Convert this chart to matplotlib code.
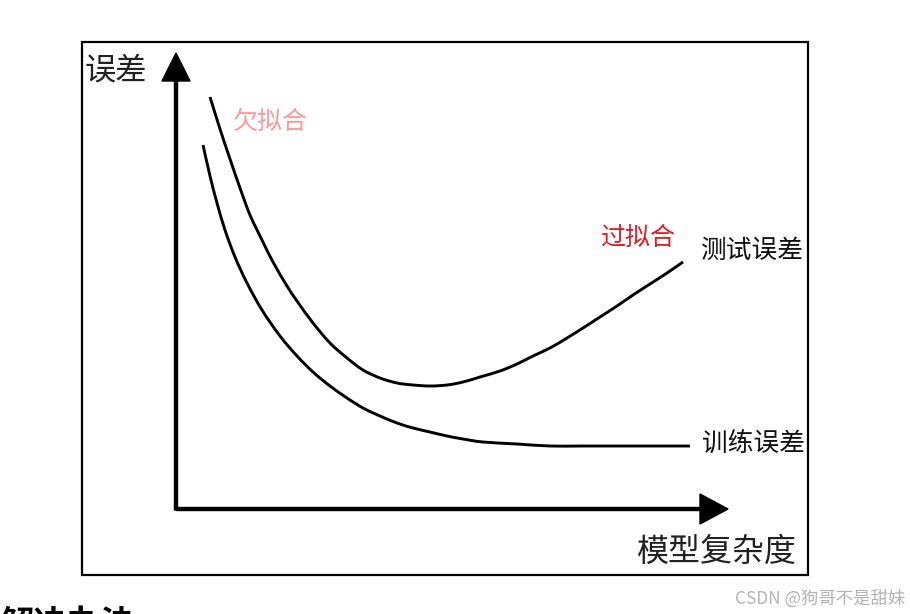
"""
Bias-variance sketch: training error vs test error over model complexity
"""

import matplotlib
matplotlib.use('Agg')
import matplotlib.pyplot as plt
import numpy as np
from matplotlib.patches import Rectangle, PathPatch
from matplotlib.path import Path

plt.rcParams['font.family'] = ['Noto Sans CJK SC', 'DejaVu Sans']

# model complexity (x) and error (y)
test_complexity = [34, 44, 54, 64, 74, 86, 97, 111, 121, 137, 154, 171, 187, 204,
                   221, 237, 254, 271, 287, 304, 324, 341, 357, 374, 391, 407,
                   424, 441, 457, 474, 491, 507]
test_error = [413, 381, 351, 322, 295, 270, 248, 224, 209, 187, 167, 152, 140, 132,
              127, 125, 124, 125, 128, 133, 139, 146, 154, 162, 172, 182,
              193, 204, 215, 226, 237, 248]

train_complexity = [27, 34, 41, 49, 59, 71, 86, 104, 121, 137, 154, 171, 187, 204,
                    221, 237, 254, 271, 287, 307, 341, 374, 407, 441, 474, 514]
train_error = [365, 334, 307, 280, 253, 227, 200, 174, 154, 138, 124, 112, 102, 94,
               87, 82, 78, 74, 71, 68, 66, 64, 64, 64, 64, 64]

x_label = '模型复杂度'
y_label = '误差'
test_label = '测试误差'
train_label = '训练误差'
under_label = '欠拟合'
over_label = '过拟合'


def smooth_path(xs, ys):
    """Draw a smooth curve through the read points (Catmull-Rom as Bezier)."""
    pts = np.column_stack([xs, ys]).astype(float)
    verts = [pts[0]]
    codes = [Path.MOVETO]
    n = len(pts)
    for i in range(n - 1):
        p0 = pts[max(i - 1, 0)]
        p1 = pts[i]
        p2 = pts[i + 1]
        p3 = pts[min(i + 2, n - 1)]
        c1 = p1 + (p2 - p0) / 6.0
        c2 = p2 - (p3 - p1) / 6.0
        verts += [c1, c2, p2]
        codes += [Path.CURVE4] * 3
    return Path(verts, codes)


# ========================================
# Figure: one data unit = one pixel, origin at the arrows' corner
# ========================================
fig = plt.figure(figsize=(9.10, 6.14), dpi=100)
ax = fig.add_axes([0, 0, 1, 1])
ax.set_xlim(-176, 734)
ax.set_ylim(-104, 510)
ax.axis('off')

# outer frame
ax.add_patch(Rectangle((82 - 176, 510 - 575), 808 - 82, 575 - 42,
                       fill=False, edgecolor='black', linewidth=1.6))

# axis arrows
ax.arrow(0, 0, 0, 457, width=3, head_width=28, head_length=28,
         length_includes_head=True, color='black')
ax.arrow(0, 1, 552, 0, width=3, head_width=30, head_length=28,
         length_includes_head=True, color='black')

# curves
for xs, ys in [(test_complexity, test_error), (train_complexity, train_error)]:
    ax.add_patch(PathPatch(smooth_path(xs, ys), fill=False, edgecolor='black',
                           linewidth=2.1, capstyle='butt'))

# labels
ax.text(85 - 176, 510 - 70, y_label, fontsize=22.5, va='center', ha='left',
        color='#222222')
ax.text(637 - 176, 510 - 552, x_label, fontsize=23, va='center', ha='left',
        color='#222222')
ax.text(233 - 176, 510 - 122, under_label, fontsize=18, va='center', ha='left',
        color='#ff9a9a')
ax.text(600 - 176, 510 - 238, over_label, fontsize=18, va='center', ha='left',
        color='#dc1e28')
ax.text(700 - 176, 510 - 251, test_label, fontsize=18.5, va='center', ha='left',
        color='#111111')
ax.text(702 - 176, 510 - 445, train_label, fontsize=18.5, va='center', ha='left',
        color='#111111')

# page leftovers around the image
ax.text(905 - 176, 510 - 599, 'CSDN @狗哥不是甜妹', fontsize=12.5, va='center',
        ha='right', color='#b4b4b4')
ax.text(0 - 176, 510 - 609, '解决办法', fontsize=24, fontweight='bold',
        va='top', ha='left', color='black')

fig.savefig('out.png', dpi=100)
plt.close(fig)
